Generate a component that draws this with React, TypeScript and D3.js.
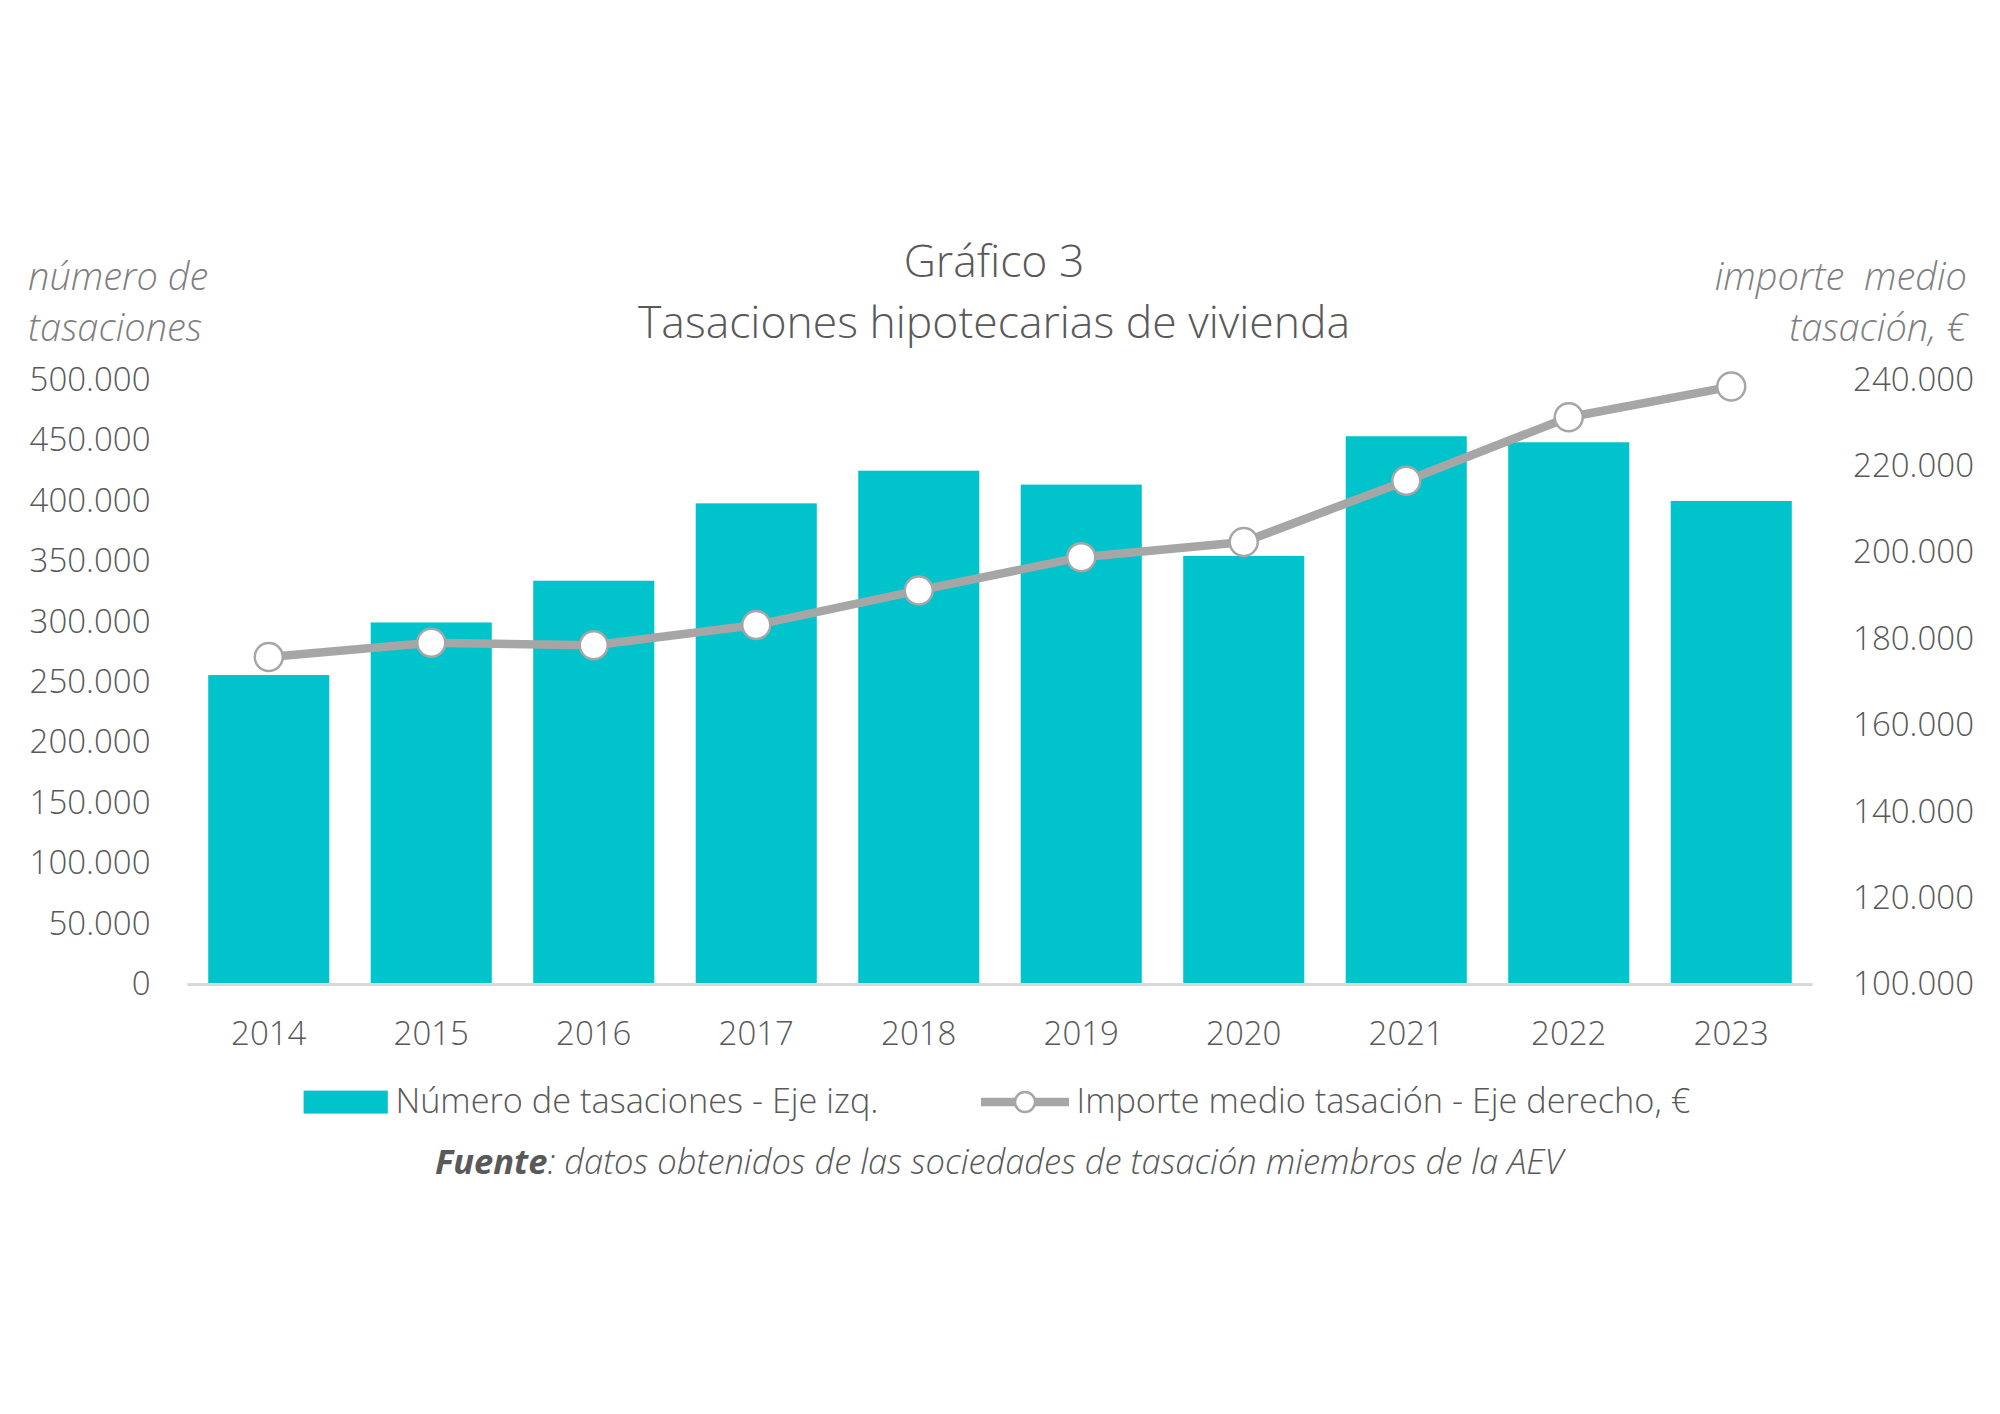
import React, { useEffect, useRef } from 'react'
import * as d3 from 'd3'

const years = ['2014', '2015', '2016', '2017', '2018', '2019', '2020', '2021', '2022', '2023']
const numTasaciones = [255000, 298500, 333000, 397000, 424000, 412500, 353500, 452500, 447500, 399000]
const importeMedio = [175600, 178900, 178300, 183000, 191000, 198700, 202200, 216400, 231100, 238200]
const leftTicks = [0, 50000, 100000, 150000, 200000, 250000, 300000, 350000, 400000, 450000, 500000]
const rightTicks = [100000, 120000, 140000, 160000, 180000, 200000, 220000, 240000]

const W = 2000
const H = 1414
const TEAL = '#00c3cc'
const GREY_LINE = '#a6a6a6'
const TEXT = '#595959'
const FONT = '"Open Sans", sans-serif'

const fmt = (v: number) => d3.format(',')(v).replace(/,/g, '.')

export default function App() {
  const svgRef = useRef<SVGSVGElement>(null)

  useEffect(() => {
    if (!svgRef.current) return
    const svg = d3.select(svgRef.current)
    svg.selectAll('*').remove()

    const left = 187.5
    const right = 1812.5
    const top = 378.8
    const bottom = 983.4

    const x = d3.scaleBand<string>().domain(years).range([left, right]).paddingInner(0.255).paddingOuter(0.1275)
    const yL = d3.scaleLinear().domain([0, 500000]).range([bottom, top])
    const yR = d3.scaleLinear().domain([100000, 240000]).range([bottom, top])

    // bars
    svg.append('g')
      .selectAll('rect')
      .data(numTasaciones)
      .join('rect')
      .attr('x', (_, i) => x(years[i])!)
      .attr('y', (d) => yL(d))
      .attr('width', x.bandwidth())
      .attr('height', (d) => bottom - yL(d))
      .attr('fill', TEAL)

    // baseline
    svg.append('line')
      .attr('x1', left).attr('x2', right)
      .attr('y1', bottom + 1).attr('y2', bottom + 1)
      .attr('stroke', '#d9d9d9').attr('stroke-width', 3)

    // left axis labels
    svg.append('g')
      .selectAll('text')
      .data(leftTicks)
      .join('text')
      .attr('x', 150.5)
      .attr('y', (d) => yL(d))
      .attr('dy', '0.36em')
      .attr('text-anchor', 'end')
      .attr('font-family', FONT)
      .attr('font-weight', 300)
      .attr('font-size', 33)
      .attr('fill', TEXT)
      .text((d) => fmt(d))

    // right axis labels
    svg.append('g')
      .selectAll('text')
      .data(rightTicks)
      .join('text')
      .attr('x', 1974)
      .attr('y', (d) => yR(d))
      .attr('dy', '0.36em')
      .attr('text-anchor', 'end')
      .attr('font-family', FONT)
      .attr('font-weight', 300)
      .attr('font-size', 33)
      .attr('fill', TEXT)
      .text((d) => fmt(d))

    // x labels
    svg.append('g')
      .selectAll('text')
      .data(years)
      .join('text')
      .attr('x', (d) => x(d)! + x.bandwidth() / 2)
      .attr('y', 1033)
      .attr('dy', '0.36em')
      .attr('text-anchor', 'middle')
      .attr('font-family', FONT)
      .attr('font-weight', 300)
      .attr('font-size', 33)
      .attr('fill', TEXT)
      .text((d) => d)

    // line
    const line = d3.line<number>()
      .x((_, i) => x(years[i])! + x.bandwidth() / 2)
      .y((d) => yR(d))

    svg.append('path')
      .datum(importeMedio)
      .attr('fill', 'none')
      .attr('stroke', GREY_LINE)
      .attr('stroke-width', 8.5)
      .attr('stroke-linejoin', 'round')
      .attr('d', line)

    svg.append('g')
      .selectAll('circle')
      .data(importeMedio)
      .join('circle')
      .attr('cx', (_, i) => x(years[i])! + x.bandwidth() / 2)
      .attr('cy', (d) => yR(d))
      .attr('r', 14)
      .attr('fill', 'white')
      .attr('stroke', GREY_LINE)
      .attr('stroke-width', 2.5)

    // titles
    const title = svg.append('text')
      .attr('text-anchor', 'middle')
      .attr('font-family', FONT)
      .attr('font-weight', 300)
      .attr('font-size', 44.5)
      .attr('fill', TEXT)
    title.append('tspan').attr('x', 994).attr('y', 277).text('Gráfico 3')
    title.append('tspan').attr('x', 994).attr('y', 338).text('Tasaciones hipotecarias de vivienda')

    const axisTitle = (anchor: string, xPos: number, lines: string[]) => {
      const t = svg.append('text')
        .attr('text-anchor', anchor)
        .attr('font-family', FONT)
        .attr('font-weight', 300)
        .attr('font-style', 'italic')
        .attr('font-size', 38)
        .attr('fill', '#7f7f7f')
        .style('white-space', 'pre')
      lines.forEach((l, i) => t.append('tspan').attr('x', xPos).attr('y', 290 + i * 51).text(l))
    }
    axisTitle('start', 28, ['número de', 'tasaciones'])
    axisTitle('end', 1967, ['importe  medio', 'tasación, €'])

    // legend
    const lg = svg.append('g')
    lg.append('rect')
      .attr('x', 303.6).attr('y', 1090.6)
      .attr('width', 84.2).attr('height', 23)
      .attr('fill', TEAL)
    lg.append('text')
      .attr('x', 395.4).attr('y', 1101)
      .attr('dy', '0.36em')
      .attr('font-family', FONT)
      .attr('font-weight', 300)
      .attr('font-size', 34.3)
      .attr('fill', TEXT)
      .text('Número de tasaciones - Eje izq.')
    lg.append('line')
      .attr('x1', 981).attr('x2', 1069)
      .attr('y1', 1102).attr('y2', 1102)
      .attr('stroke', GREY_LINE).attr('stroke-width', 8.5)
    lg.append('circle')
      .attr('cx', 1025).attr('cy', 1102).attr('r', 10)
      .attr('fill', 'white').attr('stroke', GREY_LINE).attr('stroke-width', 2.5)
    lg.append('text')
      .attr('x', 1076.5).attr('y', 1101)
      .attr('dy', '0.36em')
      .attr('font-family', FONT)
      .attr('font-weight', 300)
      .attr('font-size', 34.3)
      .attr('fill', TEXT)
      .text('Importe medio tasación - Eje derecho, €')

    // source
    const src = svg.append('text')
      .attr('x', 999).attr('y', 1162)
      .attr('dy', '0.36em')
      .attr('text-anchor', 'middle')
      .attr('font-family', FONT)
      .attr('font-style', 'italic')
      .attr('font-size', 34.5)
      .attr('fill', TEXT)
    src.append('tspan').attr('font-weight', 700).text('Fuente')
    src.append('tspan').attr('font-weight', 300).text(': datos obtenidos de las sociedades de tasación miembros de la AEV')
  }, [])

  return (
    <div style={{ position: 'absolute', left: 0, top: 0 }}>
      <svg ref={svgRef} width={W} height={H} style={{ display: 'block', background: 'white' }} />
    </div>
  )
}
